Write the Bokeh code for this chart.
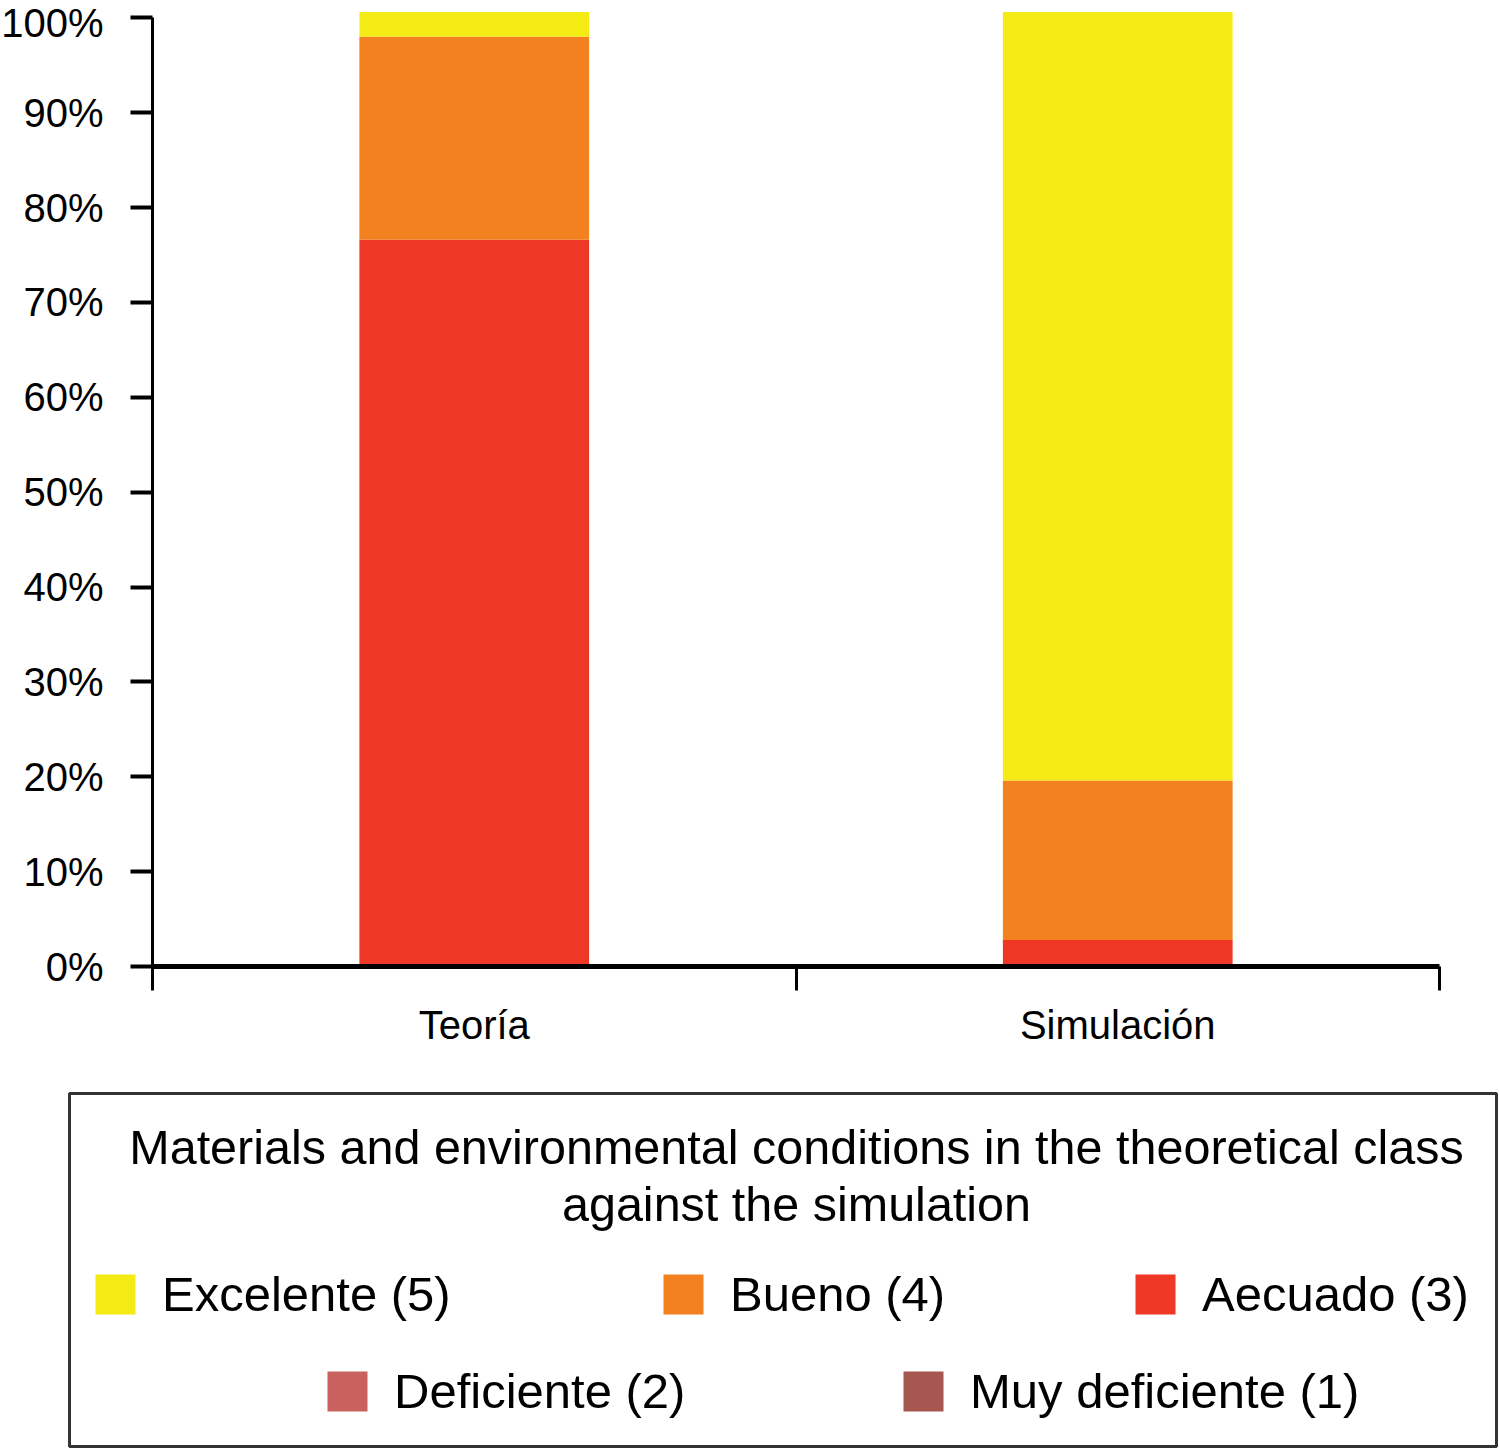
from bokeh.plotting import figure
from bokeh.models import (ColumnDataSource, Range1d, FixedTicker, SingleIntervalTicker,
                          PrintfTickFormatter, Legend, LegendItem, Label, BoxAnnotation)
from bokeh.embed import file_html
from bokeh.resources import INLINE

# datos (porcentaje de respuestas)
groups = ["Teoría", "Simulación"]
levels = ["Muy deficiente (1)", "Deficiente (2)", "Aecuado (3)", "Bueno (4)", "Excelente (5)"]
muy_deficiente = [0.0, 0.0]
deficiente = [0.0, 0.0]
adecuado = [76.6, 2.8]
bueno = [21.4, 16.8]
excelente = [2.6, 81.0]
colors = ["#a6574f", "#c9625f", "#ee3724", "#f38120", "#f5eb14"]
title_lines = ["Materials and environmental conditions in the theoretical class",
               "against the simulation"]

FONT = "Liberation Sans"
W, H = 1499, 1449
keys = ["muy", "def", "ade", "bue", "exc"]
source = ColumnDataSource(dict(
    x=[i + 0.5 for i in range(len(groups))],
    muy=muy_deficiente, **{"def": deficiente}, ade=adecuado, bue=bueno, exc=excelente,
))

# el marco ocupa todo el lienzo; ejes fijos en x=0 / y=0
# (eje x de px 152 a 1439, 0% en px 966, 100% en px 17)
xs = (1439 - 152) / len(groups)
ys = (966 - 17.3) / 100
p = figure(width=W, height=H,
           x_range=Range1d(-152 / xs, len(groups) + (W - 1439) / xs),
           y_range=Range1d(-(H - 966) / ys, 966 / ys),
           output_backend="svg", toolbar_location=None, min_border=0)
p.outline_line_color = None
p.grid.visible = False
bars = p.vbar_stack(keys, x="x", width=0.357, fill_color=colors, line_color=None, source=source)

ya = p.yaxis[0]
ya.fixed_location = 0
ya.bounds = (0, 100)
ya.ticker = SingleIntervalTicker(interval=10, num_minor_ticks=0)
ya.formatter = PrintfTickFormatter(format="%d%%")
ya.major_label_text_font = FONT
ya.major_label_text_font_size = "40px"
ya.major_label_text_color = "black"
ya.axis_line_width = 3
ya.major_tick_line_width = 4
ya.major_tick_out = 22
ya.major_tick_in = 0
ya.minor_tick_out = 0
ya.major_label_standoff = 27

xa = p.xaxis[0]
xa.fixed_location = 0
xa.bounds = (0, len(groups))
xa.ticker = FixedTicker(ticks=[i + 0.5 for i in range(len(groups))],
                        minor_ticks=list(range(len(groups) + 1)))
xa.major_label_overrides = {i + 0.5: g for i, g in enumerate(groups)}
xa.major_label_text_font = FONT
xa.major_label_text_font_size = "40px"
xa.major_label_text_color = "black"
xa.major_tick_line_color = None
xa.major_tick_out = 24
xa.major_tick_in = 0
xa.minor_tick_out = 24
xa.minor_tick_in = 0
xa.minor_tick_line_width = 3
xa.minor_tick_line_color = "black"
xa.axis_line_width = 5
xa.major_label_standoff = 12

# rango auxiliar en pixeles de pagina para la caja de leyenda
p.extra_x_ranges = {"px": Range1d(0, W)}
p.extra_y_ranges = {"px": Range1d(H, 0)}

p.add_layout(BoxAnnotation(left=69, right=1496, top=1093, bottom=1446,
                           x_range_name="px", y_range_name="px",
                           fill_alpha=0, line_color="#333333", line_width=3, line_alpha=1))

for text, y in zip(title_lines, [1146, 1203]):
    p.add_layout(Label(x=796, y=y, text=text, x_range_name="px", y_range_name="px",
                       text_align="center", text_baseline="middle",
                       text_font=FONT, text_font_size="48.5px", text_color="black"))

# posicion de cada muestra (izquierda del cuadro, centro de fila)
legend_pos = {4: (95, 1295), 3: (663, 1295), 2: (1135, 1295), 1: (327, 1392), 0: (903, 1392)}
for i, (lx, cy) in legend_pos.items():
    p.add_layout(Legend(items=[LegendItem(label=levels[i], renderers=[bars[i]])],
                        location=(lx - 5, H - (cy + 27)), padding=0, margin=0,
                        glyph_width=50, glyph_height=50, label_standoff=22,
                        label_text_font=FONT, label_text_font_size="49px",
                        label_text_color="black",
                        border_line_color=None, background_fill_alpha=0))

open("out.html", "w").write(file_html(p, INLINE))
